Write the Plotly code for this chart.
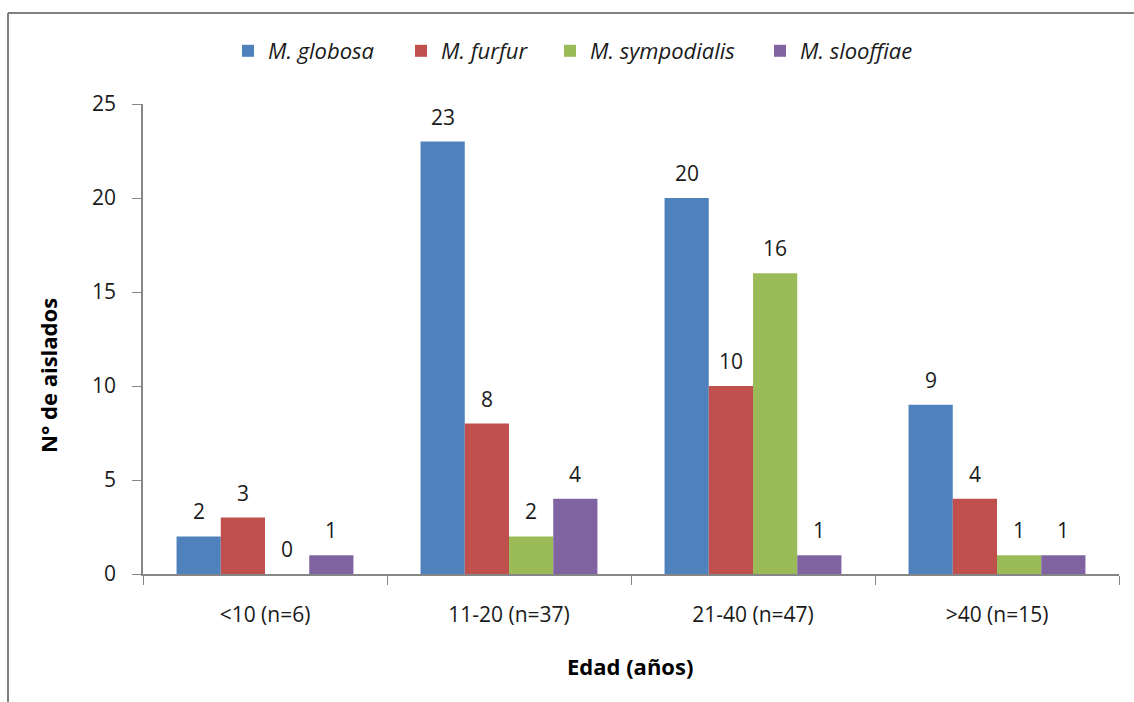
import plotly.graph_objects as go

# Age groups and isolate counts per Malassezia species
categories = ["<10 (n=6)", "11-20 (n=37)", "21-40 (n=47)", ">40 (n=15)"]
species = ["M. globosa", "M. furfur", "M. sympodialis", "M. slooffiae"]
globosa = [2, 23, 20, 9]
furfur = [3, 8, 10, 4]
sympodialis = [0, 2, 16, 1]
slooffiae = [1, 4, 1, 1]
y_ticks = [0, 5, 10, 15, 20, 25]

series = [globosa, furfur, sympodialis, slooffiae]
colors = ["#4F81BD", "#C0504D", "#9BBB59", "#8064A2"]

FONT = "Open Sans"
FS = 21
TXT = "#1a1a1a"
W, H = 1134, 702
ML, MR, MT, MB = 143, 15, 104, 128
BARGAP = 0.275
plot_w = W - ML - MR
plot_h = H - MT - MB

# one legend box per species so the entries sit at their own positions
legend_ids = ["legend", "legend2", "legend3", "legend4"]
legend_px = [228, 401, 550, 760]

fig = go.Figure()
for name, vals, col, lid in zip(species, series, colors, legend_ids):
    fig.add_trace(go.Bar(
        x=categories, y=vals, name=name, legend=lid,
        marker=dict(color=col, line=dict(width=0)),
    ))

# value labels above each bar
cat_w = plot_w / len(categories)
bar_w = cat_w * (1 - BARGAP) / len(series)
n = len(series)
for si, vals in enumerate(series):
    off = (si - (n - 1) / 2) * bar_w
    for c, v in zip(categories, vals):
        fig.add_annotation(
            x=c, y=v, xref="x", yref="y", text=str(v), showarrow=False,
            xshift=off, yshift=25, yanchor="middle",
            font=dict(family=FONT, size=FS, color=TXT),
        )

# axis titles
fig.add_annotation(
    text="<b>N° de aislados</b>", xref="paper", yref="paper",
    x=(48 - ML) / plot_w, y=(H - MB - 376) / plot_h, textangle=-90,
    showarrow=False, xanchor="center", yanchor="middle",
    font=dict(family=FONT, size=22, color="#000000"),
)
fig.add_annotation(
    text="<b>Edad (años)</b>", xref="paper", yref="paper",
    x=(630 - ML) / plot_w, y=(H - MB - 666) / plot_h,
    showarrow=False, xanchor="center", yanchor="middle",
    font=dict(family=FONT, size=22, color="#000000"),
)

# chart frame (left and top edges)
x0 = (8 - ML) / plot_w
y_top = (H - MB - 13) / plot_h
y_bot = (H - MB - 705) / plot_h
fig.add_shape(type="line", xref="paper", yref="paper", x0=x0, x1=x0,
              y0=y_bot, y1=y_top, line=dict(color="#808080", width=2))
fig.add_shape(type="line", xref="paper", yref="paper", x0=x0, x1=1.1,
              y0=y_top, y1=y_top, line=dict(color="#808080", width=2))

legend_style = {}
for lid, px in zip(legend_ids, legend_px):
    legend_style[lid] = dict(
        orientation="h", x=(px - ML) / plot_w, xanchor="left",
        y=(H - MB - 51) / plot_h, yanchor="middle",
        font=dict(family=FONT, size=22, style="italic", color=TXT),
        bgcolor="rgba(0,0,0,0)",
    )

fig.update_layout(
    width=W, height=H,
    margin=dict(l=ML, r=MR, t=MT, b=MB),
    paper_bgcolor="white", plot_bgcolor="white",
    barmode="group", bargap=BARGAP, bargroupgap=0,
    font=dict(family=FONT, size=FS, color=TXT),
    showlegend=True,
    xaxis=dict(
        showline=True, linecolor="#868686", linewidth=1.5,
        ticks="outside", tickson="boundaries", ticklen=9, tickcolor="#868686",
        showgrid=False, zeroline=False, ticklabelstandoff=21,
        tickfont=dict(family=FONT, size=FS, color=TXT),
    ),
    yaxis=dict(
        range=[0, 25], tickvals=y_ticks,
        showline=True, linecolor="#868686", linewidth=1.5,
        ticks="outside", ticklen=9, tickcolor="#868686",
        showgrid=False, zeroline=False, ticklabelstandoff=12,
        tickfont=dict(family=FONT, size=FS, color=TXT),
    ),
    **legend_style,
)

fig.write_html("out.html")
